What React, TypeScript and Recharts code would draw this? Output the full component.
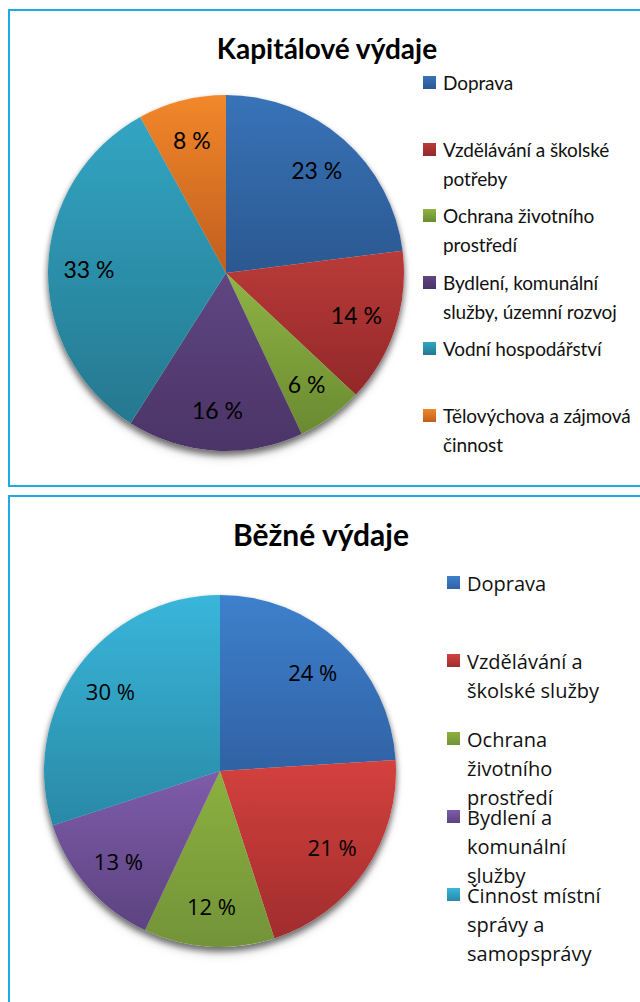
import React from 'react';
import { PieChart, Pie, Cell, Legend } from 'recharts';

// ---------- data ----------
const capTitle = 'Kapitálové výdaje';
const capCategories = [
  'Doprava',
  'Vzdělávání a školské\npotřeby',
  'Ochrana životního\nprostředí',
  'Bydlení, komunální\nslužby, územní rozvoj',
  'Vodní hospodářství',
  'Tělovýchova a zájmová\nčinnost',
];
const capValues = [23, 14, 6, 16, 33, 8];

const curTitle = 'Běžné výdaje';
const curCategories = [
  'Doprava',
  'Vzdělávání a\nškolské služby',
  'Ochrana\nživotního\nprostředí',
  'Bydlení a\nkomunální\nslužby',
  'Činnost místní\nsprávy a\nsamopsprávy',
];
const curValues = [24, 21, 12, 13, 30];

// ---------- styles ----------
const capColorsTop = ['#3873b8', '#ba3b39', '#8fb443', '#5f4682', '#32a5c3', '#f2882a'];
const capColorsBottom = ['#2b5890', '#922829', '#6a8a31', '#4b3466', '#25788f', '#c05e1e'];
const curColorsTop = ['#3e80cd', '#d4413e', '#8cb03e', '#7f5caa', '#39b6da'];
const curColorsBottom = ['#3062a4', '#a02d2d', '#739339', '#5c4380', '#2989a6'];

const BORDER = '#19ade4';
const NO_MARGIN = { top: 0, right: 0, bottom: 0, left: 0 };

const capData = capCategories.map((name, i) => ({ name, value: capValues[i] }));
const curData = curCategories.map((name, i) => ({ name, value: curValues[i] }));

const RAD = Math.PI / 180;
const makeLabel = (font: string, size: number) => (props: any) => {
  const { cx, cy, midAngle, outerRadius, value } = props;
  const r = outerRadius * 0.77;
  const x = cx + r * Math.cos(-midAngle * RAD);
  const y = cy + r * Math.sin(-midAngle * RAD);
  return (
    <text
      x={x}
      y={y}
      textAnchor="middle"
      dominantBaseline="central"
      fill="#000"
      fontFamily={font}
      fontSize={size}
    >
      {`${value} %`}
    </text>
  );
};

const makeLegend = (
  names: string[],
  tops: string[],
  bottoms: string[],
  font: string,
  size: number,
  slot: number,
  textOffset: number,
  squareTop: number,
  letterSpacing: number
) => () => (
  <div style={{ position: 'relative', width: 260 }}>
    {names.map((n, i) => (
      <div key={n} style={{ position: 'relative', height: slot }}>
        <div
          style={{
            position: 'absolute',
            left: 0,
            top: squareTop,
            width: 13,
            height: 13,
            background: `linear-gradient(${tops[i]}, ${bottoms[i]})`,
          }}
        />
        <div
          style={{
            position: 'absolute',
            left: textOffset,
            top: 0,
            whiteSpace: 'pre',
            fontFamily: font,
            fontSize: size,
            lineHeight: '29px',
            letterSpacing,
            color: '#111',
          }}
        >
          {n}
        </div>
      </div>
    ))}
  </div>
);

const Gradients = ({ prefix, tops, bottoms }: { prefix: string; tops: string[]; bottoms: string[] }) => (
  <defs>
    {tops.map((t, i) => (
      <linearGradient key={i} id={`${prefix}-${i}`} x1="0" y1="0" x2="0" y2="1">
        <stop offset="0%" stopColor={t} />
        <stop offset="100%" stopColor={bottoms[i]} />
      </linearGradient>
    ))}
  </defs>
);

export default function App() {
  return (
    <div
      style={{
        position: 'absolute',
        left: 0,
        top: 0,
        width: 640,
        height: 1002,
        overflow: 'hidden',
        background: '#fff',
      }}
    >
      <style>{`.pie-shadow { filter: drop-shadow(0px 4px 3px rgba(0,0,0,0.35)); }`}</style>

      {/* boxes */}
      <div
        style={{
          position: 'absolute',
          left: 8,
          top: 9,
          width: 680,
          height: 478,
          border: `2px solid ${BORDER}`,
          boxSizing: 'border-box',
        }}
      />
      <div
        style={{
          position: 'absolute',
          left: 8,
          top: 495,
          width: 680,
          height: 600,
          border: `2px solid ${BORDER}`,
          boxSizing: 'border-box',
        }}
      />

      {/* titles */}
      <div
        style={{
          position: 'absolute',
          left: 0,
          width: 654,
          top: 32,
          textAlign: 'center',
          fontFamily: 'Lato',
          fontWeight: 700,
          fontSize: 28,
          lineHeight: 1.2,
          color: '#000',
        }}
      >
        {capTitle}
      </div>
      <div
        style={{
          position: 'absolute',
          left: 0,
          width: 642,
          top: 516,
          textAlign: 'center',
          fontFamily: 'Lato',
          fontWeight: 700,
          fontSize: 30,
          lineHeight: 1.2,
          color: '#000',
        }}
      >
        {curTitle}
      </div>

      {/* chart 1 */}
      <div style={{ position: 'absolute', left: 0, top: 0, width: 640, height: 490 }}>
        <PieChart width={640} height={490} margin={NO_MARGIN}>
          <Gradients prefix="capg" tops={capColorsTop} bottoms={capColorsBottom} />
          <Pie
            data={capData}
            dataKey="value"
            nameKey="name"
            cx={226}
            cy={273}
            outerRadius={178}
            startAngle={90}
            endAngle={-270}
            className="pie-shadow"
            fill="#ffffff"
            stroke="none"
            label={false}
            labelLine={false}
            isAnimationActive={false}
            legendType="none"
          />
          <Pie
            data={capData}
            dataKey="value"
            nameKey="name"
            cx={226}
            cy={273}
            outerRadius={178}
            startAngle={90}
            endAngle={-270}
            stroke="none"
            label={makeLabel('Lato', 23)}
            labelLine={false}
            isAnimationActive={false}
          >
            {capData.map((d, i) => (
              <Cell key={d.name} fill={`url(#capg-${i})`} />
            ))}
          </Pie>
          <Legend
            content={makeLegend(capCategories, capColorsTop, capColorsBottom, 'Lato', 19, 66.5, 20, 8, -0.1)}
            wrapperStyle={{ left: 423, top: 68, width: 260 }}
          />
        </PieChart>
      </div>

      {/* chart 2 */}
      <div style={{ position: 'absolute', left: 0, top: 490, width: 640, height: 512 }}>
        <PieChart width={640} height={512} margin={NO_MARGIN}>
          <Gradients prefix="curg" tops={curColorsTop} bottoms={curColorsBottom} />
          <Pie
            data={curData}
            dataKey="value"
            nameKey="name"
            cx={220}
            cy={281}
            outerRadius={176}
            startAngle={90}
            endAngle={-270}
            className="pie-shadow"
            fill="#ffffff"
            stroke="none"
            label={false}
            labelLine={false}
            isAnimationActive={false}
            legendType="none"
          />
          <Pie
            data={curData}
            dataKey="value"
            nameKey="name"
            cx={220}
            cy={281}
            outerRadius={176}
            startAngle={90}
            endAngle={-270}
            stroke="none"
            label={makeLabel('Open Sans', 22)}
            labelLine={false}
            isAnimationActive={false}
          >
            {curData.map((d, i) => (
              <Cell key={d.name} fill={`url(#curg-${i})`} />
            ))}
          </Pie>
          <Legend
            content={makeLegend(curCategories, curColorsTop, curColorsBottom, 'Open Sans', 20, 78, 20, 7, 0)}
            wrapperStyle={{ left: 447, top: 79, width: 260 }}
          />
        </PieChart>
      </div>
    </div>
  );
}
